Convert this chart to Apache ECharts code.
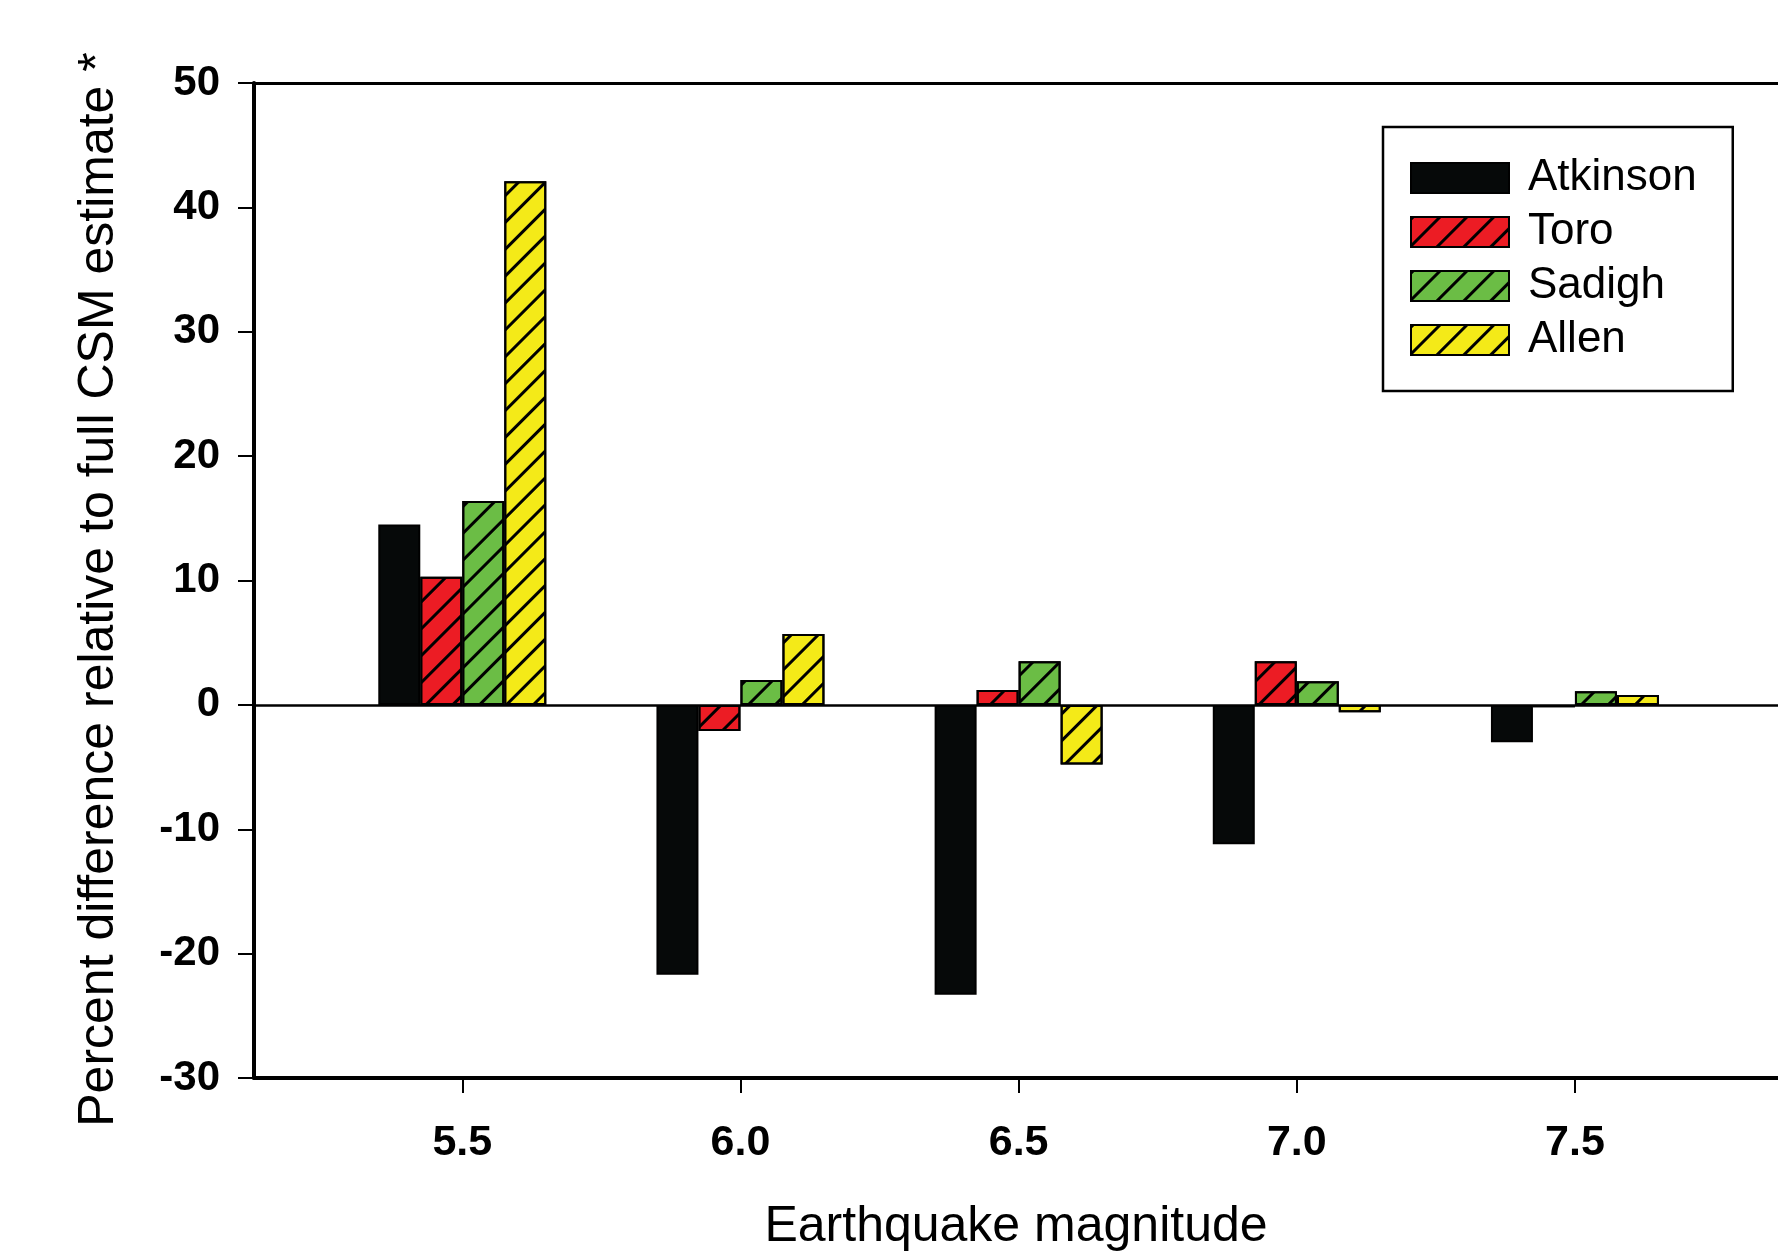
<!DOCTYPE html>
<html>
<head>
<meta charset="utf-8">
<script src="https://cdn.jsdelivr.net/npm/echarts@6/dist/echarts.min.js"></script>
<style>
html,body{margin:0;padding:0;background:#fff;}
#chart{width:1778px;height:1257px;}
</style>
</head>
<body>
<div id="chart"></div>
<script>
const magnitudes = [5.5, 6.0, 6.5, 7.0, 7.5];
const seriesNames = ['Atkinson', 'Toro', 'Sadigh', 'Allen'];
const atkinson = [14.5, -21.7, -23.3, -11.2, -3.0];
const toro = [10.3, -2.1, 1.2, 3.5, -0.2];
const sadigh = [16.4, 2.0, 3.5, 1.9, 1.1];
const allen = [42.1, 5.7, -4.8, -0.6, 0.8];
const yMin = -30, yMax = 50, yStep = 10;
const xMin = 5.1256, xMax = 7.865;

const FONT = '"Liberation Sans", Arial, Helvetica, sans-serif';
const colors = ['#060909', '#ec1c24', '#6bbd45', '#f4ea18'];
const valuesList = [atkinson, toro, sadigh, allen];

const hatch = {
  symbol: 'rect',
  color: '#000',
  dashArrayX: [1, 0],
  dashArrayY: [2.5, 16],
  rotation: -Math.PI / 4
};

const series = seriesNames.map((name, i) => {
  const s = {
    name: name,
    type: 'bar',
    xAxisIndex: 0,
    barWidth: 42,
    barGap: '0%',
    data: magnitudes.map((m, j) => [m, valuesList[i][j]]),
    itemStyle: {
      color: colors[i],
      borderColor: '#000',
      borderWidth: 2,
      decal: i === 0 ? null : hatch
    },
    emphasis: { disabled: true }
  };
  if (i === 0) {
    s.markLine = {
      silent: true,
      symbol: ['none', 'none'],
      label: { show: false },
      lineStyle: { color: '#000', width: 2.5, type: 'solid' },
      data: [{ yAxis: 0 }],
      animation: false
    };
  }
  return s;
});

const chart = echarts.init(document.getElementById('chart'), null, { renderer: 'canvas' });
chart.setOption({
  animation: false,
  backgroundColor: '#fff',
  textStyle: { fontFamily: FONT },
  grid: {
    left: 254, top: 83, bottom: 177, right: 0,
    show: false
  },
  legend: {
    orient: 'vertical',
    left: 1383,
    top: 127,
    backgroundColor: '#fff',
    borderColor: '#000',
    borderWidth: 2.5,
    padding: [29, 36, 29, 27],
    itemWidth: 98,
    itemHeight: 30,
    itemGap: 10,
    icon: 'rect',
    selectedMode: false,
    textStyle: { fontFamily: FONT, fontSize: 44, color: '#000', lineHeight: 44, padding: [0, 0, 0, 14] },
    data: seriesNames
  },
  xAxis: [{
    type: 'value',
    position: 'bottom',
    min: xMin,
    max: xMax,
    name: 'Earthquake magnitude',
    nameLocation: 'middle',
    nameGap: 124,
    nameTextStyle: { fontFamily: FONT, fontSize: 50, color: '#000' },
    axisLine: { show: true, onZero: false, lineStyle: { color: '#000', width: 4 } },
    axisTick: {
      show: true, length: 15, inside: false,
      customValues: magnitudes,
      lineStyle: { color: '#000', width: 2 }
    },
    axisLabel: {
      show: true, margin: 44,
      customValues: magnitudes,
      formatter: v => v.toFixed(1),
      fontFamily: FONT, fontSize: 43, fontWeight: 'bold', color: '#000'
    },
    splitLine: { show: false }
  }, {
    type: 'value',
    position: 'top',
    min: xMin,
    max: xMax,
    axisLine: { show: true, onZero: false, lineStyle: { color: '#000', width: 3 } },
    axisTick: { show: false },
    axisLabel: { show: false },
    splitLine: { show: false }
  }],
  yAxis: {
    type: 'value',
    min: yMin,
    max: yMax,
    interval: yStep,
    name: 'Percent difference relative to full CSM estimate *',
    nameLocation: 'middle',
    nameRotate: 90,
    nameGap: 130,
    nameTextStyle: { fontFamily: FONT, fontSize: 50, color: '#000', padding: [0, 18, 0, 0] },
    axisLine: { show: true, lineStyle: { color: '#000', width: 4 } },
    axisTick: { show: true, length: 16, lineStyle: { color: '#000', width: 2 } },
    axisLabel: { margin: 34, fontFamily: FONT, fontSize: 42, fontWeight: 'bold', color: '#000' },
    splitLine: { show: false }
  },
  series: series
});
</script>
</body>
</html>
